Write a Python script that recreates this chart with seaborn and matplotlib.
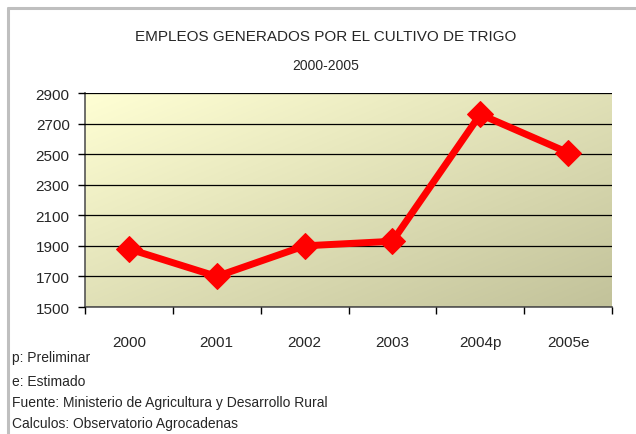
import numpy as np
import pandas as pd
import matplotlib.pyplot as plt
from matplotlib.ticker import FixedLocator
import seaborn as sns

# Empleos generados por el cultivo de trigo, 2000-2005
anios = ["2000", "2001", "2002", "2003", "2004p", "2005e"]
empleos = [1880, 1700, 1900, 1930, 2760, 2510]
y_ticks = [1500, 1700, 1900, 2100, 2300, 2500, 2700, 2900]

notas = ["p: Preliminar",
         "e: Estimado",
         "Fuente: Ministerio de Agricultura y Desarrollo Rural",
         "Calculos: Observatorio Agrocadenas"]

sns.set_style("white")
plt.rcParams["font.family"] = ["Liberation Sans Narrow", "Liberation Sans", "DejaVu Sans"]

df = pd.DataFrame({"anio": anios, "empleos": empleos})

fig = plt.figure(figsize=(6.36, 4.35), dpi=100)
ax = fig.add_axes([85 / 636, 1 - 308 / 435, (612 - 85) / 636, (308 - 94) / 435])

# fondo degradado del area de trazado (claro arriba-izquierda, oscuro abajo-derecha)
gx, gy = np.meshgrid(np.linspace(0, 1, 200), np.linspace(0, 1, 200))
t = (gx + gy) / 2
c0 = np.array([255, 255, 212]) / 255
c1 = np.array([194, 194, 154]) / 255
img = c0[None, None, :] * (1 - t[..., None]) + c1[None, None, :] * t[..., None]
ax.imshow(img, extent=[0, 1, 0, 1], transform=ax.transAxes, aspect="auto", zorder=0, origin="upper")

sns.lineplot(data=df, x="anio", y="empleos", ax=ax, color="#FF0000", linewidth=5,
             marker="D", markersize=13, markeredgecolor="#FF0000", zorder=3, sort=False)

ax.set_xlim(-0.5, len(anios) - 0.5)
ax.set_ylim(1500, 2900)
ax.set_yticks(y_ticks)
ax.set_yticklabels([str(v) for v in y_ticks], fontsize=11)
ax.yaxis.grid(True, color="black", linewidth=0.9)
ax.set_axisbelow(False)
for gl in ax.get_ygridlines():
    gl.set_zorder(1)

ax.set_xticks(range(len(anios)))
ax.set_xticklabels(anios, fontsize=11)
ax.xaxis.set_minor_locator(FixedLocator(np.arange(-0.5, len(anios), 1.0)))
ax.tick_params(axis="x", which="major", length=0, pad=20)
ax.tick_params(axis="x", which="minor", length=5, width=1, color="black", direction="out", bottom=True)
ax.tick_params(axis="y", length=5, width=1, color="black", direction="out", left=True, pad=6)
ax.set_xlabel("")
ax.set_ylabel("")

for s in ["top", "right"]:
    ax.spines[s].set_visible(False)
ax.spines["left"].set_color("#555555")
ax.spines["bottom"].set_color("#555555")
ax.spines["left"].set_linewidth(1.2)
ax.spines["bottom"].set_linewidth(1.2)

fig.text(326 / 636, 1 - 37 / 435, "EMPLEOS GENERADOS POR EL CULTIVO DE TRIGO",
         ha="center", va="center", fontsize=11)
fig.text(326 / 636, 1 - 66 / 435, "2000-2005", ha="center", va="center", fontsize=10)

ys = [358, 382, 403, 424]
for txt, yy in zip(notas, ys):
    fig.text(12 / 636, 1 - yy / 435, txt, ha="left", va="center", fontsize=10)

# borde del area del grafico
fig.add_artist(plt.Line2D([7.5 / 636, 7.5 / 636], [0, 1 - 9 / 435], transform=fig.transFigure,
                          color="#BFBFBF", linewidth=2.2))
fig.add_artist(plt.Line2D([7.5 / 636, 1], [1 - 9 / 435, 1 - 9 / 435], transform=fig.transFigure,
                          color="#BFBFBF", linewidth=2.2))

fig.savefig("out.png", dpi=100)
